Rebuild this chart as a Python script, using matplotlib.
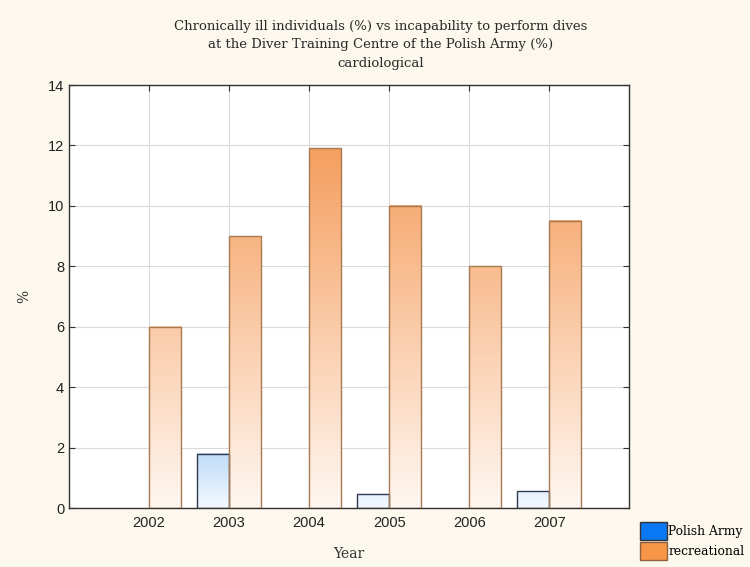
import numpy as np
import matplotlib
matplotlib.use("Agg")
import matplotlib.pyplot as plt
from matplotlib.colors import LinearSegmentedColormap
from matplotlib.patches import Patch

# Data
years = [2002, 2003, 2004, 2005, 2006, 2007]
polish_army = [0.0, 1.8, 0.0, 0.45, 0.0, 0.55]
recreational = [6.0, 9.0, 11.9, 10.0, 8.0, 9.5]
series_names = ["Polish Army", "recreational"]

title = ("Chronically ill individuals (%) vs incapability to perform dives\n"
         "at the Diver Training Centre of the Polish Army (%)\n"
         "cardiological")

bg = "#FDF8EE"
serif = ["DejaVu Serif"]
sans = ["Liberation Sans", "DejaVu Sans"]

# gradient colours (bottom -> top) and edges
blue_cmap = LinearSegmentedColormap.from_list("b", ["#F4F9FF", "#C0DBF8"])
orange_cmap = LinearSegmentedColormap.from_list("o", ["#FFF7F1", "#F59E5E"])
blue_edge = "#2E3A50"
orange_edge = "#A87A52"


def gradient_bars(ax, xs, heights, width, cmap, edge, top):
    grad = np.linspace(0, 1, 256).reshape(-1, 1)
    keep = [(x, h) for x, h in zip(xs, heights) if h > 0]
    for x, h in keep:
        x0 = x - width / 2
        ax.imshow(grad * (h / top), extent=[x0, x0 + width, 0, h], origin="lower",
                  aspect="auto", cmap=cmap, vmin=0, vmax=1, zorder=2)
    ax.bar([k[0] for k in keep], [k[1] for k in keep], width=width,
           facecolor="none", edgecolor=edge, linewidth=1.0, zorder=3)


def main():
    fig = plt.figure(figsize=(7.5, 5.67), dpi=100, facecolor=bg)
    ax = fig.add_axes([0.092, 0.104, 0.747, 0.746])
    ax.set_facecolor("white")

    x = np.array(years, dtype=float)
    w = 0.4
    gradient_bars(ax, x - w / 2, polish_army, w, blue_cmap, blue_edge, max(polish_army))
    gradient_bars(ax, x + w / 2, recreational, w, orange_cmap, orange_edge, 12.0)

    ax.set_xlim(2001, 2008)
    ax.set_ylim(0, 14)
    ax.set_xticks(years)
    ax.set_yticks(np.arange(0, 15, 2))
    ax.grid(True, color="#D9D9D9", linewidth=0.8, zorder=0)
    ax.set_axisbelow(True)
    ax.tick_params(direction="in", top=True, right=True, length=4,
                   color="#333333", labelsize=10.5, labelcolor="#222222")
    ax.tick_params(axis="x", pad=6)
    for lab in ax.get_xticklabels() + ax.get_yticklabels():
        lab.set_family(sans)
    for s in ax.spines.values():
        s.set_color("#333333")
        s.set_linewidth(1.0)

    ax.set_xlabel("Year", family=serif, fontsize=10, color="#333333", labelpad=12)
    ax.set_ylabel("%", family=serif, fontsize=10, color="#333333", labelpad=12)

    fig.text(0.507, 0.965, title, ha="center", va="top", family=serif,
             fontsize=9.5, color="#2A2A2A", linespacing=1.55)

    handles = [Patch(facecolor="#0A78F2", edgecolor="#333333"),
               Patch(facecolor="#F79646", edgecolor="#8A6040")]
    fig.legend(handles, series_names, loc="lower left",
               bbox_to_anchor=(0.853, 0.012), frameon=False,
               prop={"family": serif, "size": 8.8}, handlelength=2.2,
               handleheight=1.9, handletextpad=0.15, labelspacing=0.15,
               borderaxespad=0.0, borderpad=0.0)

    fig.savefig("out.png", dpi=100, facecolor=bg)


if __name__ == "__main__":
    main()
